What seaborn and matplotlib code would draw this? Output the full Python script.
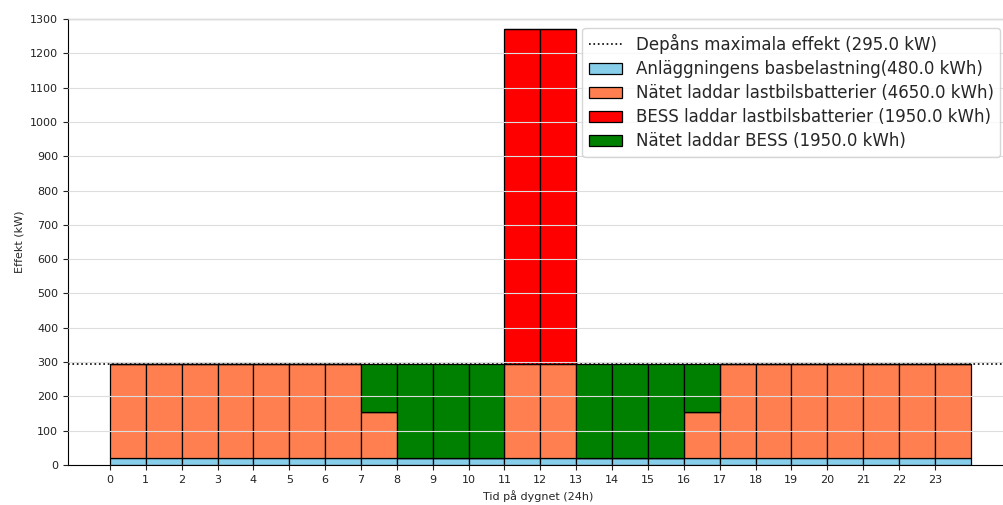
import numpy as np
import seaborn as sns
import matplotlib.pyplot as plt

hours = list(range(24))
max_power = 295.0
base_load = [20] * 24
grid_to_trucks = [275] * 7 + [135, 0, 0, 0, 275, 275, 0, 0, 0, 135] + [275] * 7
bess_to_trucks = [0] * 11 + [975, 975] + [0] * 11
grid_to_bess = [0] * 7 + [140, 275, 275, 275, 0, 0, 275, 275, 275, 140] + [0] * 7

labels = [
    "Anläggningens basbelastning(480.0 kWh)",
    "Nätet laddar lastbilsbatterier (4650.0 kWh)",
    "BESS laddar lastbilsbatterier (1950.0 kWh)",
    "Nätet laddar BESS (1950.0 kWh)",
]
colors = ["skyblue", "coral", "red", "green"]

sns.set_style("ticks")
plt.rcParams["font.family"] = ["DejaVu Sans"]

fig = plt.figure(figsize=(10.04, 5.05), dpi=100)
ax = fig.add_axes([68 / 1004, 40 / 505, 940 / 1004, 446 / 505])

bottom = np.zeros(24)
for values, label, color in zip(
    [base_load, grid_to_trucks, bess_to_trucks, grid_to_bess], labels, colors
):
    ax.bar(hours, values, width=1, bottom=bottom, align="edge",
           color=color, edgecolor="black", linewidth=0.9, label=label)
    bottom = bottom + np.array(values)

ax.axhline(max_power, color="black", linestyle=":", linewidth=1.2,
           label=f"Depåns maximala effekt ({max_power} kW)")

ax.set_xlim(-1.17, 25.04)
ax.set_ylim(0, 1300)
ax.set_xticks(hours)
ax.set_yticks(range(0, 1301, 100))
ax.tick_params(labelsize=8, colors="#222222")
ax.yaxis.grid(True, color="#dddddd", linewidth=0.8)
ax.set_axisbelow(False)
ax.set_xlabel("Tid på dygnet (24h)", fontsize=8)
ax.set_ylabel("Effekt (kW)", fontsize=8)
for s in ax.spines.values():
    s.set_color("black")
    s.set_linewidth(0.8)

ax.legend(loc="upper right", fontsize=12, borderaxespad=0.3, labelspacing=0.36,
          framealpha=0.8, bbox_to_anchor=(0.997, 0.992))

fig.savefig("out.png", dpi=100, facecolor="white")
